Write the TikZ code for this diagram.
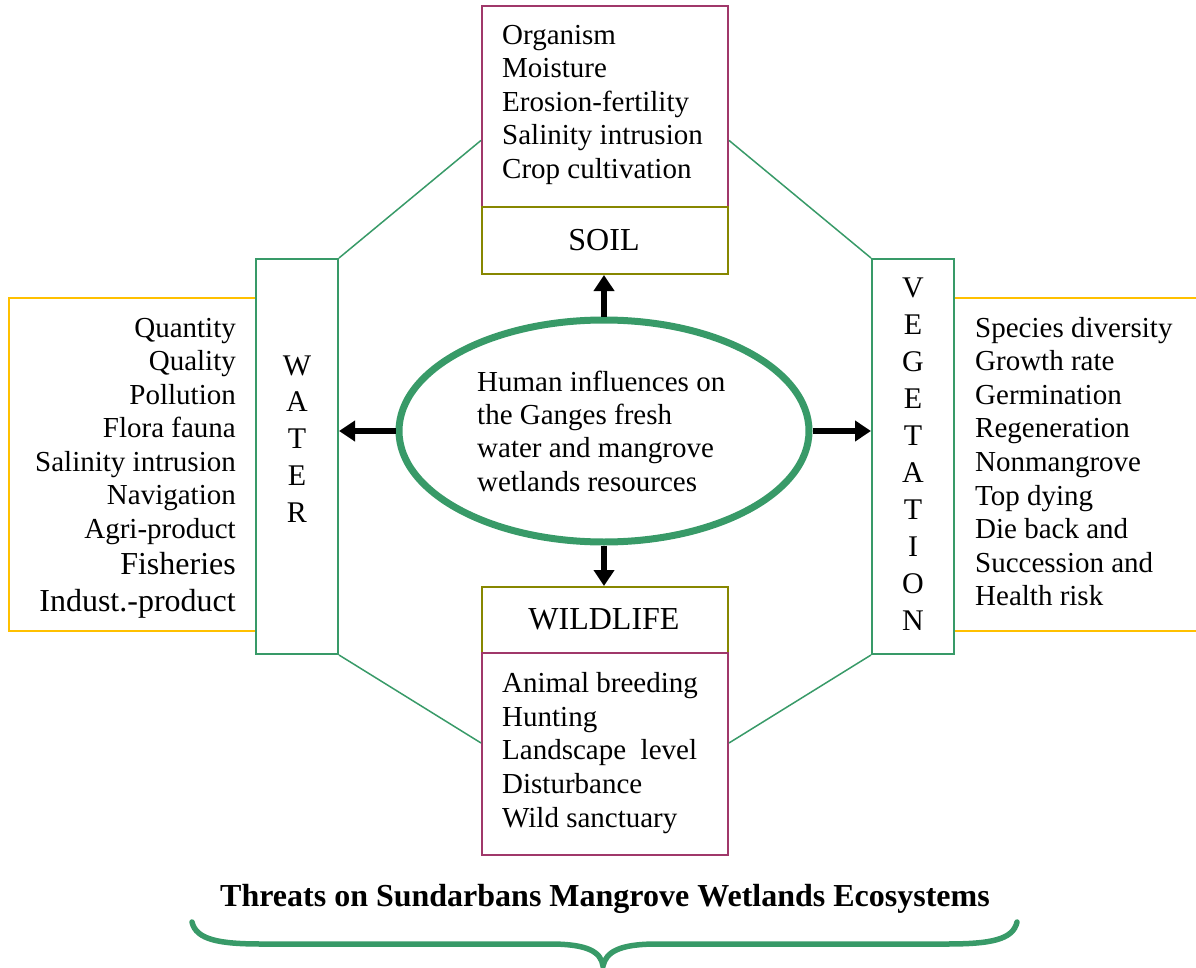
\documentclass[tikz,border=0pt]{standalone}
\usepackage{fontspec}
\setmainfont{Liberation Serif}
\usetikzlibrary{shapes.geometric,arrows.meta,calc}
\definecolor{grn}{RGB}{56,154,104}
\definecolor{mrn}{RGB}{160,56,106}
\definecolor{olv}{RGB}{135,135,0}
\definecolor{ylw}{RGB}{255,192,0}
\tikzset{
  box/.style={draw, line width=2pt, inner sep=0pt, fill=white},
  listbox/.style={box, draw=mrn},
  labbox/.style={box, draw=olv},
  tallbox/.style={box, draw=grn},
  sidebox/.style={box, draw=ylw},
  item/.style={inner sep=0pt, font=\fontsize{29}{33.5}\selectfont},
  bigitem/.style={inner sep=0pt, font=\fontsize{32}{36}\selectfont},
  letter/.style={inner sep=0pt, font=\fontsize{30}{36}\selectfont},
  conn/.style={draw=grn, line width=1.5pt},
  arr/.style={line width=5.5pt, -{Triangle[length=16pt,width=20pt]}},
  bracestyle/.style={draw=grn, line width=5.5pt, line cap=round}
}
\begin{document}
\begin{tikzpicture}[x=1pt,y=-1pt]
\useasboundingbox (0,0) rectangle (1196,968);
% side list boxes (behind)
\node[sidebox, minimum width=247pt, minimum height=333pt] (wlist) at (132.5,464.5) {};
\node[sidebox, minimum width=250pt, minimum height=333pt] (vlist) at (1079,464.5) {};
% tall boxes
\node[tallbox, minimum width=82pt, minimum height=395pt] (water) at (297,456.5) {};
\node[tallbox, minimum width=82pt, minimum height=395pt] (veg) at (913,456.5) {};
% soil
\node[listbox, minimum width=246pt, minimum height=201pt] (soil) at (605,106.5) {};
\node[labbox, minimum width=246pt, minimum height=67pt] (soillab) at (605,240.5) {};
% wildlife
\node[labbox, minimum width=246pt, minimum height=66pt] (wildlab) at (605,620) {};
\node[listbox, minimum width=246pt, minimum height=202pt] (wild) at (605,754) {};
% hub
\node[ellipse, draw=grn, line width=7pt, minimum width=410pt, minimum height=222pt, inner sep=0pt] (hub) at (604,431) {};
% connectors
\draw[conn] ($(soil.north west)!0.667!(soil.south west)$) -- (water.north east);
\draw[conn] ($(soil.north east)!0.667!(soil.south east)$) -- (veg.north west);
\draw[conn] (water.south east) -- ($(wild.north west)!0.446!(wild.south west)$);
\draw[conn] (veg.south west) -- ($(wild.north east)!0.446!(wild.south east)$);
% arrows
\draw[arr] (hub.north) -- (hub.north |- soillab.south);
\draw[arr] (hub.south) -- (hub.south |- wildlab.north);
\draw[arr] (hub.west) -- (hub.west -| water.east);
\draw[arr] (hub.east) -- (hub.east -| veg.west);
% texts
\node[bigitem, anchor=base] (soilt) at (604,251) {SOIL};
\node[bigitem, anchor=base] (wildt) at (604,629) {WILDLIFE};
\foreach \t [count=\i] in {Organism, Moisture, Erosion-fertility, Salinity intrusion, Crop cultivation}
  \node[item, anchor=base west] (so\i) at (502,{44.5+33.5*(\i-1)}) {\t};
\foreach \t [count=\i] in {Animal breeding, Hunting, Landscape\ \ level, Disturbance, Wild sanctuary}
  \node[item, anchor=base west] (wi\i) at (502,{692.5+33.7*(\i-1)}) {\t};
\foreach \t [count=\i] in {Quantity, Quality, Pollution, Flora fauna, Salinity intrusion, Navigation, Agri-product}
  \node[item, anchor=base east] (wa\i) at (236,{337+33.5*(\i-1)}) {\t};
\node[bigitem, anchor=base east] (wa8) at (236,574) {Fisheries};
\node[bigitem, anchor=base east] (wa9) at (236,611) {Indust.-product};
\foreach \t [count=\i] in {Species diversity, Growth rate, Germination, Regeneration, Nonmangrove, Top dying, Die back and, Succession and, Health risk}
  \node[item, anchor=base west] (ve\i) at (975,{337+33.6*(\i-1)}) {\t};
\foreach \t [count=\i] in {W,A,T,E,R}
  \node[letter, anchor=base] (wl\i) at (297,{375+36.8*(\i-1)}) {\t};
\foreach \t [count=\i] in {V,E,G,E,T,A,T,I,O,N}
  \node[letter, anchor=base] (vl\i) at (913,{298+36.9*(\i-1)}) {\t};
\foreach \t [count=\i] in {Human influences on, the Ganges fresh, water and mangrove, wetlands resources}
  \node[item, anchor=base west] (hu\i) at (477,{391+33.4*(\i-1)}) {\t};
% title and brace
\node[inner sep=0pt, font=\fontsize{32}{36}\bfseries\selectfont, anchor=base] (title) at (605,906) {Threats on Sundarbans Mangrove Wetlands Ecosystems};
\draw[bracestyle] (192,922) .. controls (196,940) and (220,944) .. (262,944) -- (550,944) .. controls (588,944) and (601,952) .. (603,966) .. controls (606,952) and (619,944) .. (657,944) -- (946,944) .. controls (990,944) and (1013,940) .. (1017,922);
\end{tikzpicture}
\end{document}
